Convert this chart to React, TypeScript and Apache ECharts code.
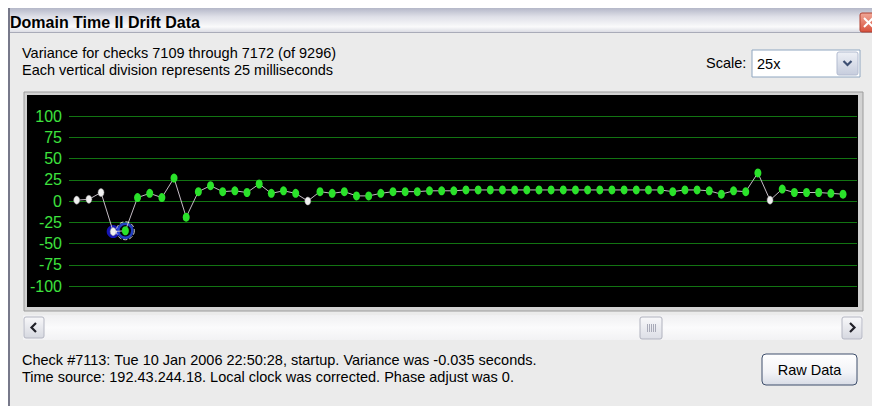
import React, { useEffect, useRef } from "react";
import * as echarts from "echarts";

// ---- data ----
const firstCheck = 7109;
const lastCheck = 7172;
const totalChecks = 9296;
const divisionMs = 25;
const scaleLabel = "25x";
// variance per check, in milliseconds
const variances = [
  1, 2, 10, -36, -35, 4, 9, 4, 27, -19,
  11, 18, 11, 12, 10, 20, 9, 12, 9, 0,
  11, 9, 11, 6, 6, 9, 11, 11, 11, 12,
  12, 12, 13, 13, 13, 13, 13, 13, 13, 13,
  13, 13, 13, 13, 13, 13, 13, 13, 13, 11,
  13, 13, 12, 8, 12, 11, 33, 1, 14, 10,
  10, 10, 9, 8,
];
const whiteChecks = [7109, 7110, 7111, 7112, 7128, 7166];
const hoveredCheck = 7112;
const selectedCheck = 7113;
const yMin = -100;
const yMax = 100;
const yStep = 25;
const statusLine1 = "Check #7113: Tue 10 Jan 2006 22:50:28, startup. Variance was -0.035 seconds.";
const statusLine2 = "Time source: 192.43.244.18. Local clock was corrected. Phase adjust was 0.";

const UI_FONT = "Tahoma, 'Liberation Sans', Arial, sans-serif";

function lg(stops: [number, string][]) {
  return new echarts.graphic.LinearGradient(
    0, 0, 0, 1,
    stops.map(([offset, color]) => ({ offset, color }))
  );
}

function txt(text: string, x: number, y: number, opts: any = {}) {
  return {
    type: "text",
    z: -10,
    style: {
      text,
      x,
      y,
      fill: opts.fill || "#000",
      fontSize: opts.fontSize || 14.5,
      fontFamily: UI_FONT,
      fontWeight: opts.fontWeight || "normal",
      textAlign: opts.align || "left",
      align: opts.align || "left",
      textVerticalAlign: "middle",
      verticalAlign: "middle",
    },
  };
}

export default function App() {
  const ref = useRef<HTMLDivElement>(null);

  useEffect(() => {
    if (!ref.current) return;
    const chart = echarts.init(ref.current, undefined, { renderer: "svg" });

    const checks = variances.map((_, i) => firstCheck + i);
    const lineData = variances.map((v, i) => {
      const c = checks[i];
      const white = whiteChecks.includes(c);
      return {
        value: [c, v],
        symbol: "circle",
        symbolSize: white ? [6, 8] : [7, 9],
        itemStyle: white
          ? { color: "#f0f0f0", borderColor: "#9a9a9a", borderWidth: 0.5 }
          : { color: "#2ae22a" },
      };
    });
    const hoverVal = variances[hoveredCheck - firstCheck];
    const selVal = variances[selectedCheck - firstCheck];

    const graphic: any[] = [
      // dialog body
      { type: "rect", z: -10, shape: { x: 8, y: 8, width: 870, height: 400 }, style: { fill: "#ebebeb" } },
      { type: "rect", z: -10, shape: { x: 8, y: 8, width: 2, height: 400 }, style: { fill: "#77798a" } },
      // title bar
      {
        type: "rect", z: -10,
        shape: { x: 10, y: 8, width: 870, height: 25 },
        style: { fill: lg([[0, "#b4b7c8"], [0.35, "#dfe0e8"], [0.75, "#fafafb"], [1, "#d6d7e0"]]) },
      },
      { type: "rect", z: -10, shape: { x: 10, y: 32, width: 870, height: 1 }, style: { fill: "#a9abb8" } },
      txt("Domain Time II Drift Data", 10, 22, { fontWeight: "bold", fontSize: 16 }),
      // close button
      {
        type: "rect", z: -10,
        shape: { x: 860, y: 13, width: 16, height: 19, r: 2 },
        style: { fill: lg([[0, "#f0a898"], [1, "#d8503c"]]), stroke: "#b04030", lineWidth: 1 },
      },
      { type: "line", z: -10, shape: { x1: 864, y1: 18, x2: 873, y2: 27 }, style: { stroke: "#fff", lineWidth: 2 } },
      { type: "line", z: -10, shape: { x1: 873, y1: 18, x2: 864, y2: 27 }, style: { stroke: "#fff", lineWidth: 2 } },
      // header texts
      txt(`Variance for checks ${firstCheck} through ${lastCheck} (of ${totalChecks})`, 22, 53),
      txt(`Each vertical division represents ${divisionMs} milliseconds`, 22, 70),
      txt("Scale:", 706, 63),
      // combobox
      { type: "rect", z: -10, shape: { x: 752, y: 50, width: 108, height: 27 }, style: { fill: "#ffffff", stroke: "#8fa6c0", lineWidth: 1 } },
      txt(scaleLabel, 757, 64),
      {
        type: "rect", z: -10,
        shape: { x: 837, y: 52, width: 21, height: 23, r: 2 },
        style: { fill: lg([[0, "#eef0f6"], [1, "#c6cddd"]]), stroke: "#b2bbd0", lineWidth: 1 },
      },
      {
        type: "polyline", z: -10,
        shape: { points: [[843.5, 61], [847.5, 65], [851.5, 61]] },
        style: { stroke: "#3d4f72", lineWidth: 2.2, fill: "none" },
      },
      // chart panel
      { type: "rect", z: -10, shape: { x: 24, y: 92, width: 839, height: 219 }, style: { fill: "#d2d2d2", stroke: "#9c9c9c", lineWidth: 1 } },
      { type: "rect", z: -10, shape: { x: 27, y: 95, width: 831, height: 212 }, style: { fill: "#000000" } },
      // scrollbar
      {
        type: "rect", z: -10,
        shape: { x: 23, y: 315, width: 840, height: 25 },
        style: { fill: lg([[0, "#f0f0f2"], [0.5, "#fbfbfc"], [1, "#f2f2f4"]]) },
      },
      {
        type: "rect", z: -10,
        shape: { x: 24, y: 317, width: 20, height: 21, r: 2 },
        style: { fill: lg([[0, "#f8f8fa"], [1, "#d6d8e0"]]), stroke: "#b4b6c2", lineWidth: 1 },
      },
      {
        type: "polyline", z: -10,
        shape: { points: [[36, 323], [31.5, 327.5], [36, 332]] },
        style: { stroke: "#202028", lineWidth: 2.2, fill: "none" },
      },
      {
        type: "rect", z: -10,
        shape: { x: 842, y: 317, width: 20, height: 22, r: 2 },
        style: { fill: lg([[0, "#f8f8fa"], [1, "#d6d8e0"]]), stroke: "#b4b6c2", lineWidth: 1 },
      },
      {
        type: "polyline", z: -10,
        shape: { points: [[850, 323], [854.5, 327.5], [850, 332]] },
        style: { stroke: "#202028", lineWidth: 2.2, fill: "none" },
      },
      {
        type: "rect", z: -10,
        shape: { x: 640, y: 317, width: 22, height: 22, r: 2 },
        style: { fill: lg([[0, "#f8f8fa"], [1, "#dcdee6"]]), stroke: "#b0b2be", lineWidth: 1 },
      },
      ...[647, 649, 651, 653, 655].map((x) => ({
        type: "line", z: -10,
        shape: { x1: x + 0.5, y1: 324, x2: x + 0.5, y2: 332 },
        style: { stroke: "#a8aab8", lineWidth: 1 },
      })),
      // status texts
      txt(statusLine1, 22, 360),
      txt(statusLine2, 22, 377),
      // raw data button
      {
        type: "rect", z: -10,
        shape: { x: 762, y: 354, width: 95, height: 31, r: 4 },
        style: { fill: lg([[0, "#ffffff"], [0.6, "#f2f3f7"], [1, "#d8dce6"]]), stroke: "#3f4f6c", lineWidth: 1 },
      },
      txt("Raw Data", 809.5, 370, { align: "center" }),
    ];

    chart.setOption({
      animation: false,
      backgroundColor: "#ffffff",
      graphic,
      grid: { left: 69, right: 15, top: 116, bottom: 120, containLabel: false },
      xAxis: {
        type: "value",
        min: firstCheck - 0.633,
        max: firstCheck + 64.15,
        show: false,
        splitLine: { show: false },
      },
      yAxis: {
        type: "value",
        min: yMin,
        max: yMax,
        interval: yStep,
        axisLine: { show: false },
        axisTick: { show: false },
        axisLabel: {
          color: "#3ee23e",
          fontSize: 16,
          fontFamily: "'Liberation Sans Narrow', 'Liberation Sans', Arial, sans-serif",
          margin: 7,
        },
        splitLine: { show: true, lineStyle: { color: "#127412", width: 1 } },
      },
      series: [
        {
          type: "scatter",
          silent: true,
          z: 1,
          data: [[hoveredCheck, hoverVal]],
          symbol: "circle",
          symbolSize: 13,
          itemStyle: { color: "#1a1ae0" },
        },
        {
          type: "scatter",
          silent: true,
          z: 1,
          data: [[selectedCheck, selVal]],
          symbol: "circle",
          symbolSize: 14,
          itemStyle: { color: "#02020e", borderColor: "#2c50f0", borderWidth: 2.5 },
        },
        {
          type: "line",
          silent: true,
          z: 3,
          data: lineData,
          showSymbol: true,
          lineStyle: { color: "#c4bcc4", width: 1 },
        },
        {
          type: "scatter",
          silent: true,
          z: 4,
          data: [[selectedCheck, selVal]],
          symbol: "circle",
          symbolSize: 18,
          itemStyle: { color: "rgba(0,0,0,0)", borderColor: "#ffffff", borderType: "dashed", borderWidth: 1 },
        },
      ],
    });

    return () => chart.dispose();
  }, []);

  return (
    <div
      ref={ref}
      style={{ position: "fixed", left: 0, top: 0, width: 872, height: 406 }}
    />
  );
}
